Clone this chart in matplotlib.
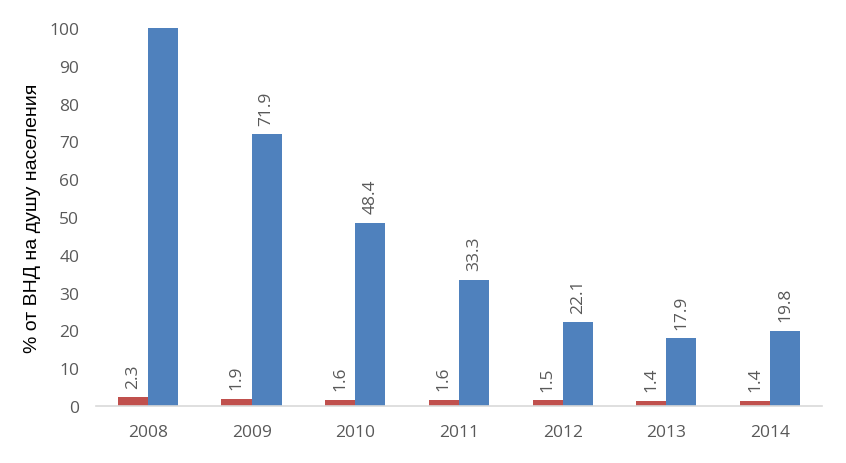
import matplotlib
matplotlib.use("Agg")
import matplotlib.pyplot as plt
import numpy as np

years = ["2008", "2009", "2010", "2011", "2012", "2013", "2014"]
red_vals = [2.3, 1.9, 1.6, 1.6, 1.5, 1.4, 1.4]
blue_vals = [100.0, 71.9, 48.4, 33.3, 22.1, 17.9, 19.8]
blue_labels = [None, "71.9", "48.4", "33.3", "22.1", "17.9", "19.8"]

plt.rcParams['font.family'] = ['Open Sans', 'DejaVu Sans']
fig = plt.figure(figsize=(8.46, 4.64), dpi=100)
ax = fig.add_axes([0.1135, 0.1228, 0.858, 0.8147])

x = np.arange(len(years))
w = 0.29
ax.bar(x - w/2, red_vals, w, color="#C0504D")
ax.bar(x + w/2, blue_vals, w, color="#4F81BD")

gray = "#595959"
for i in range(len(years)):
    ax.annotate(f"{red_vals[i]:.1f}", (x[i] - w/2, red_vals[i]), xytext=(0, 7),
                textcoords="offset points", rotation=90, ha="center", va="bottom",
                fontsize=12.5, color=gray)
    if blue_labels[i]:
        ax.annotate(blue_labels[i], (x[i] + w/2, blue_vals[i]), xytext=(0, 7),
                    textcoords="offset points", rotation=90, ha="center", va="bottom",
                    fontsize=12.5, color=gray)

ax.set_xlim(-0.5, len(years) - 0.5)
ax.set_ylim(0, 100)
ax.set_yticks(range(0, 101, 10))
ax.set_xticks(x)
ax.set_xticklabels(years)
ax.tick_params(axis="both", length=0, labelsize=12.5, colors=gray)
ax.tick_params(axis="x", pad=13)
ax.tick_params(axis="y", pad=12)
for s in ["top", "right", "left"]:
    ax.spines[s].set_visible(False)
ax.spines["bottom"].set_color("#D9D9D9")
ax.spines["bottom"].set_linewidth(1.2)
ax.set_ylabel("% от ВНД на душу населения", fontsize=14, color="black", labelpad=6,
              family=["Liberation Sans", "DejaVu Sans"])

fig.savefig("out.png", dpi=100)
